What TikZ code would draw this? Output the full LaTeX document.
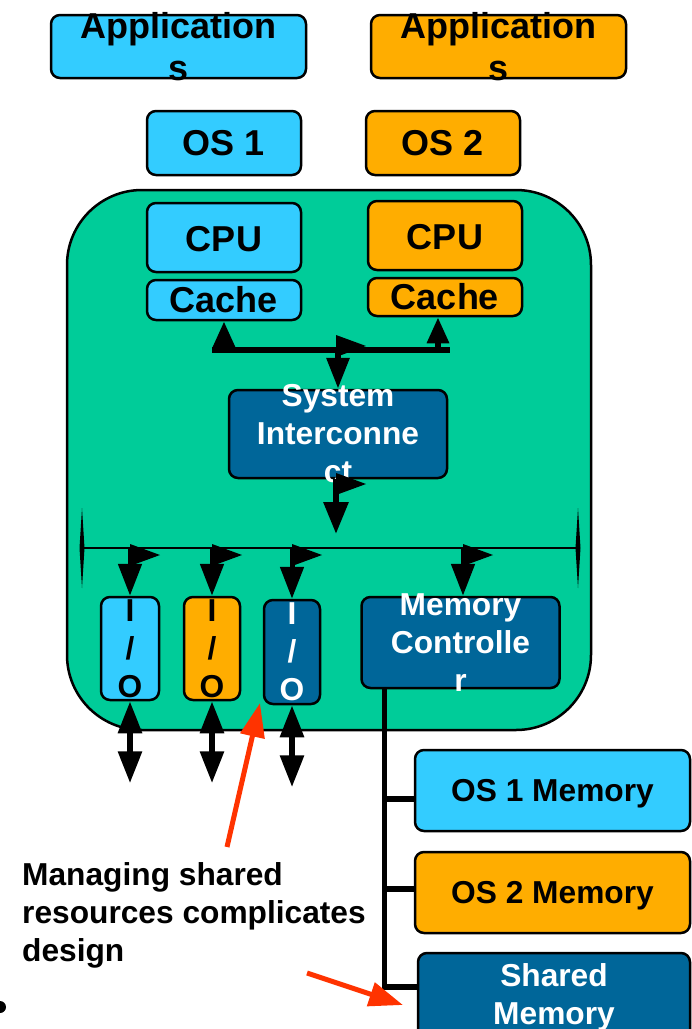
\documentclass[tikz,border=0pt]{standalone}
\usepackage{fontspec}
\setmainfont{Liberation Sans}
\usetikzlibrary{arrows.meta}
\definecolor{cy}{HTML}{33CCFF}
\definecolor{og}{HTML}{FFAD00}
\definecolor{gr}{HTML}{00CC99}
\definecolor{db}{HTML}{006699}
\definecolor{rd}{HTML}{FF3300}
\begin{document}
\begin{tikzpicture}[x=1pt,y=-1pt,
 box/.style={draw=black,line width=2.5pt,rounded corners=9pt,inner sep=0pt},
 bigtxt/.style={font=\bfseries\fontsize{36}{42}\selectfont,align=center,inner sep=0pt},
 smtxt/.style={font=\bfseries\fontsize{31.7}{38}\selectfont,align=center,inner sep=0pt},
 darr/.style={line width=5pt,-{Triangle[length=32pt,width=23pt]}},
 uarr/.style={line width=6pt,-{Triangle[length=26pt,width=21pt]}},
 biarr/.style={line width=6pt,{Triangle[length=32pt,width=23pt]}-{Triangle[length=32pt,width=23pt]}},
 redarr/.style={rd,line width=5pt,-{Triangle[length=34pt,width=24pt]}},
 rtri/.pic={\fill (0,-11) -- (30,0) -- (0,11) -- cycle;},
 spike/.pic={\fill (0,-40) -- (2.5,0) -- (0,40) -- (-2.5,0) -- cycle;}
]
\useasboundingbox (0,0) rectangle (692,1029);

% top boxes
\node[box,fill=cy,minimum width=255pt,minimum height=63pt] (app1) at (178.5,46.5) {};
\node[bigtxt] (app1t) at (app1) {Application\\s};
\node[box,fill=og,minimum width=255pt,minimum height=63pt] (app2) at (498.5,46.5) {};
\node[bigtxt] (app2t) at (app2) {Application\\s};
\node[box,fill=cy,minimum width=154pt,minimum height=64pt] (os1) at (224,143) {};
\node[bigtxt] (os1t) at (os1) {OS 1};
\node[box,fill=og,minimum width=154pt,minimum height=64pt] (os2) at (443,143) {};
\node[bigtxt] (os2t) at (os2) {OS 2};

% green system
\node[draw=black,line width=2.5pt,fill=gr,rounded corners=75pt,minimum width=524pt,minimum height=540pt,inner sep=0pt] (sys) at (329,460) {};

\node[box,fill=cy,minimum width=154pt,minimum height=69pt] (cpu1) at (224,237.5) {};
\node[bigtxt] (cpu1t) at ([yshift=-1.5pt]cpu1.center) {CPU};
\node[box,fill=cy,minimum width=154pt,minimum height=40pt] (cache1) at (224,300) {};
\node[bigtxt] (cache1t) at (cache1) {Cache};
\node[box,fill=og,minimum width=154pt,minimum height=69pt] (cpu2) at (445,235.5) {};
\node[bigtxt] (cpu2t) at ([yshift=-1.5pt]cpu2.center) {CPU};
\node[box,fill=og,minimum width=154pt,minimum height=38pt] (cache2) at (445,297) {};
\node[bigtxt] (cache2t) at (cache2) {Cache};

\node[box,fill=db,minimum width=218pt,minimum height=88pt] (si) at (338,434) {};
\node[smtxt,text=white] (sit) at (si) {System\\Interconne\\ct};

\node[box,fill=cy,minimum width=58pt,minimum height=103pt] (io1) at (130,648.5) {};
\node[smtxt] (io1t) at (io1) {I\\/\\O};
\node[box,fill=og,minimum width=56pt,minimum height=103pt] (io2) at (212,648.5) {};
\node[smtxt] (io2t) at (io2) {I\\/\\O};
\node[box,fill=db,minimum width=56pt,minimum height=104pt] (io3) at (292,652) {};
\node[smtxt,text=white] (io3t) at (io3) {I\\/\\O};
\node[box,fill=db,minimum width=198pt,minimum height=91pt] (mc) at (460.5,642.5) {};
\node[smtxt,text=white] (mct) at (mc) {Memory\\Controlle\\r};

% memories
\node[box,fill=cy,minimum width=275pt,minimum height=81pt] (m1) at (552.5,790.5) {};
\node[smtxt] (m1t) at ([yshift=-3.5pt]m1.center) {OS 1 Memory};
\node[box,fill=og,minimum width=275pt,minimum height=81pt] (m2) at (552.5,892.5) {};
\node[smtxt] (m2t) at ([yshift=-3pt]m2.center) {OS 2 Memory};
\node[box,fill=db,minimum width=272pt,minimum height=88pt] (m3) at (554,997) {};
\node[smtxt,text=white] (m3t) at (m3) {Shared\\Memory};

% cache bus
\coordinate (cbL) at (212,350);
\coordinate (cbR) at (450,350);
\draw[line width=6pt] (cbL) -- (cbR);
\draw[uarr] (cache1.south |- cbL) -- (cache1.south);
\draw[uarr] ([xshift=-7pt]cache2.south |- cbL) -- ([xshift=-7pt]cache2.south);
\draw[line width=6pt,-{Triangle[length=31pt,width=22pt]}] (si.north |- cbL) -- (si.north);
\pic at (336,346) {rtri};

% interconnect down
\coordinate (sid) at (336,534);
\draw[line width=6pt,-{Triangle[length=32pt,width=24pt]}] (si.south -| sid) -- (sid);
\pic at (336,484) {rtri};

% I/O bus
\coordinate (bL) at (82,548);
\coordinate (bR) at (578,548);
\draw[line width=2.5pt] (bL) -- (bR);
\pic at (bL) {spike};
\pic at (bR) {spike};
\foreach \n in {io1,io2,io3} {
  \draw[darr] (\n.north |- bL) -- (\n.north);
  \path (\n.north |- bL) pic[yshift=-7pt] {rtri};
}
\draw[darr] ([xshift=2.5pt]mc.north |- bL) -- ([xshift=2.5pt]mc.north);
\path ([xshift=2.5pt]mc.north |- bL) pic[yshift=-7pt] {rtri};

% external I/O arrows
\foreach \n/\k in {io1/a,io2/b,io3/c} {
  \coordinate (e\k) at ([yshift=-82pt]\n.south);
  \draw[biarr] (\n.south) -- (e\k);
}

% memory line
\coordinate (mt) at (384.5,687);
\coordinate (b1) at (384.5,799);
\coordinate (b2) at (384.5,889);
\coordinate (b3) at (384.5,987);
\draw[line width=5.5pt] (mt) -- (b3) -- (m3.west |- b3);
\draw[line width=5.5pt] (b1) -- (m1.west |- b1);
\draw[line width=5.5pt] (b2) -- (m2.west |- b2);

% annotation
\node[anchor=north west,font=\bfseries\fontsize{31.7}{38}\selectfont,align=left,inner sep=0pt] (note) at (22,862) {Managing shared\\resources complicates\\design};
\coordinate (r1s) at (227,847);
\coordinate (r1e) at (260,703);
\draw[redarr] (r1s) -- (r1e);
\coordinate (r2s) at (307,973);
\coordinate (r2e) at (403,1005);
\draw[redarr] (r2s) -- (r2e);
\fill (0,1007) circle (6pt);
\end{tikzpicture}
\end{document}
